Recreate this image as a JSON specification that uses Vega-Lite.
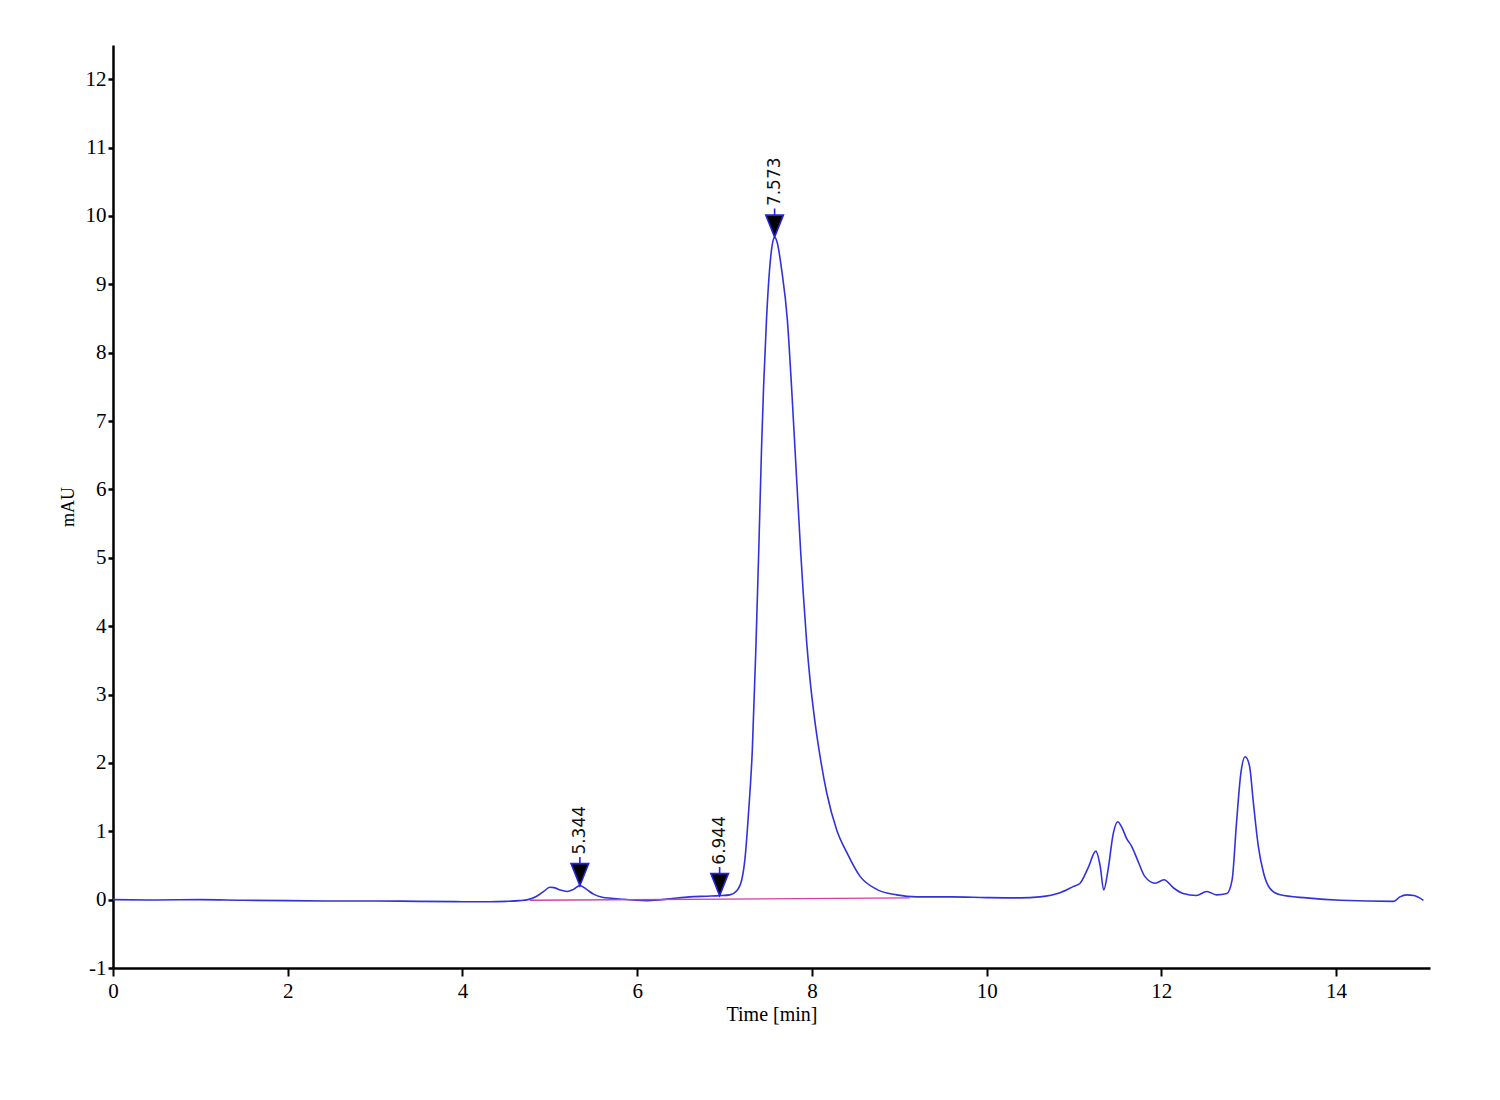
{
  "$schema": "https://vega.github.io/schema/vega-lite/v6.json",
  "autosize": {"type": "none"},
  "padding": {"left": 113, "top": 45, "right": 70, "bottom": 132},
  "width": 1317,
  "height": 923,
  "background": "white",
  "config": {"view": {"stroke": null}},
  "datasets": {
    "curve": [
      {"t": 0.0, "mAU": 0.0},
      {"t": 0.5, "mAU": -0.005},
      {"t": 1.0, "mAU": 0.0},
      {"t": 1.5, "mAU": -0.01},
      {"t": 2.0, "mAU": -0.015},
      {"t": 2.5, "mAU": -0.02},
      {"t": 3.0, "mAU": -0.02},
      {"t": 3.5, "mAU": -0.025},
      {"t": 4.0, "mAU": -0.03},
      {"t": 4.3, "mAU": -0.03},
      {"t": 4.5, "mAU": -0.025},
      {"t": 4.65, "mAU": -0.015},
      {"t": 4.75, "mAU": 0.0},
      {"t": 4.85, "mAU": 0.05},
      {"t": 4.93, "mAU": 0.12},
      {"t": 5.0, "mAU": 0.18},
      {"t": 5.05, "mAU": 0.175},
      {"t": 5.12, "mAU": 0.14},
      {"t": 5.2, "mAU": 0.12},
      {"t": 5.27, "mAU": 0.15},
      {"t": 5.344, "mAU": 0.205},
      {"t": 5.42, "mAU": 0.15},
      {"t": 5.5, "mAU": 0.08},
      {"t": 5.6, "mAU": 0.035},
      {"t": 5.7, "mAU": 0.02},
      {"t": 5.8, "mAU": 0.01},
      {"t": 5.95, "mAU": -0.005},
      {"t": 6.1, "mAU": -0.015},
      {"t": 6.25, "mAU": -0.005},
      {"t": 6.4, "mAU": 0.015},
      {"t": 6.6, "mAU": 0.04},
      {"t": 6.8, "mAU": 0.05},
      {"t": 6.944, "mAU": 0.058},
      {"t": 7.06, "mAU": 0.07},
      {"t": 7.14, "mAU": 0.13},
      {"t": 7.197, "mAU": 0.29},
      {"t": 7.234, "mAU": 0.6},
      {"t": 7.272, "mAU": 1.22},
      {"t": 7.318, "mAU": 2.19},
      {"t": 7.358, "mAU": 3.65},
      {"t": 7.392, "mAU": 5.12},
      {"t": 7.423, "mAU": 6.58},
      {"t": 7.447, "mAU": 7.5},
      {"t": 7.48, "mAU": 8.48},
      {"t": 7.515, "mAU": 9.21},
      {"t": 7.545, "mAU": 9.57},
      {"t": 7.573, "mAU": 9.69},
      {"t": 7.605, "mAU": 9.6},
      {"t": 7.654, "mAU": 9.21},
      {"t": 7.719, "mAU": 8.48},
      {"t": 7.767, "mAU": 7.5},
      {"t": 7.807, "mAU": 6.58},
      {"t": 7.87, "mAU": 5.12},
      {"t": 7.9, "mAU": 4.5},
      {"t": 7.941, "mAU": 3.75},
      {"t": 7.98, "mAU": 3.2},
      {"t": 8.02, "mAU": 2.75},
      {"t": 8.099, "mAU": 2.05},
      {"t": 8.17, "mAU": 1.56},
      {"t": 8.284, "mAU": 1.02},
      {"t": 8.399, "mAU": 0.69},
      {"t": 8.551, "mAU": 0.34},
      {"t": 8.742, "mAU": 0.15},
      {"t": 8.97, "mAU": 0.07},
      {"t": 9.2, "mAU": 0.04},
      {"t": 9.6, "mAU": 0.04},
      {"t": 10.0, "mAU": 0.03},
      {"t": 10.38, "mAU": 0.025},
      {"t": 10.61, "mAU": 0.04},
      {"t": 10.84, "mAU": 0.1},
      {"t": 10.99, "mAU": 0.19},
      {"t": 11.07, "mAU": 0.24},
      {"t": 11.16, "mAU": 0.46},
      {"t": 11.25, "mAU": 0.71},
      {"t": 11.3, "mAU": 0.49},
      {"t": 11.34, "mAU": 0.14},
      {"t": 11.39, "mAU": 0.44},
      {"t": 11.45, "mAU": 0.97},
      {"t": 11.5, "mAU": 1.14},
      {"t": 11.55, "mAU": 1.05},
      {"t": 11.6, "mAU": 0.9},
      {"t": 11.66, "mAU": 0.78},
      {"t": 11.74, "mAU": 0.54},
      {"t": 11.81, "mAU": 0.34},
      {"t": 11.93, "mAU": 0.24},
      {"t": 12.03, "mAU": 0.29},
      {"t": 12.14, "mAU": 0.17},
      {"t": 12.25, "mAU": 0.09},
      {"t": 12.4, "mAU": 0.06},
      {"t": 12.52, "mAU": 0.12},
      {"t": 12.63, "mAU": 0.07},
      {"t": 12.75, "mAU": 0.09},
      {"t": 12.81, "mAU": 0.29},
      {"t": 12.86, "mAU": 1.12},
      {"t": 12.91, "mAU": 1.85},
      {"t": 12.96, "mAU": 2.09},
      {"t": 13.01, "mAU": 1.95},
      {"t": 13.05, "mAU": 1.46},
      {"t": 13.11, "mAU": 0.78},
      {"t": 13.17, "mAU": 0.39},
      {"t": 13.24, "mAU": 0.17},
      {"t": 13.36, "mAU": 0.07},
      {"t": 13.66, "mAU": 0.025},
      {"t": 14.05, "mAU": -0.01},
      {"t": 14.66, "mAU": -0.025},
      {"t": 14.73, "mAU": 0.04},
      {"t": 14.81, "mAU": 0.07},
      {"t": 14.89, "mAU": 0.06},
      {"t": 15.0, "mAU": -0.01}
    ],
    "baseline": [
      {"t": 4.77, "mAU": -0.01},
      {"t": 9.12, "mAU": 0.025}
    ],
    "peaks": [
      {"t": 5.344, "mAU": 0.205, "label": "5.344"},
      {"t": 6.944, "mAU": 0.058, "label": "6.944"},
      {"t": 7.573, "mAU": 9.69, "label": "7.573"}
    ]
  },
  "encoding": {
    "x": {
      "field": "t", "type": "quantitative",
      "scale": {"domain": [0, 15.075], "nice": false, "zero": false},
      "axis": {
        "title": "Time [min]",
        "values": [0, 2, 4, 6, 8, 10, 12, 14],
        "grid": false,
        "domainColor": "black", "domainWidth": 2.5,
        "tickColor": "black", "tickWidth": 2, "tickSize": 8,
        "labelFont": "Liberation Serif", "labelFontSize": 21, "labelColor": "black", "labelPadding": 4,
        "labelFlush": false,
        "titleFont": "Liberation Serif", "titleFontSize": 20, "titleFontWeight": "normal", "titleColor": "black", "titlePadding": 3
      }
    },
    "y": {
      "field": "mAU", "type": "quantitative",
      "scale": {"domain": [-1, 12.5], "nice": false, "zero": false},
      "axis": {
        "title": "mAU",
        "values": [-1, 0, 1, 2, 3, 4, 5, 6, 7, 8, 9, 10, 11, 12],
        "labelExpr": "datum.value < 0 ? '-' + abs(datum.value) : '' + datum.value",
        "grid": false,
        "domainColor": "black", "domainWidth": 2.5,
        "tickColor": "black", "tickWidth": 2.5, "tickSize": 5,
        "labelFont": "Liberation Serif", "labelFontSize": 21, "labelColor": "black", "labelPadding": 2,
        "labelFlush": false,
        "titleFont": "Liberation Serif", "titleFontSize": 18, "titleFontWeight": "normal", "titleColor": "black", "titlePadding": 8
      }
    }
  },
  "layer": [
    {
      "data": {"name": "curve"},
      "mark": {"type": "line", "color": "#3232dc", "strokeWidth": 1.6, "interpolate": "monotone", "clip": true}
    },
    {
      "data": {"name": "baseline"},
      "mark": {"type": "line", "color": "#d0409f", "strokeWidth": 1.4}
    },
    {
      "data": {"name": "peaks"},
      "mark": {
        "type": "point",
        "shape": "M-0.8,-2L0.8,-2L0,0Z M0,-2L0,-2.6",
        "size": 484,
        "filled": true,
        "fill": "black",
        "stroke": "#2424e0",
        "strokeWidth": 1.6,
        "opacity": 1,
        "fillOpacity": 1
      }
    },
    {
      "data": {"name": "peaks"},
      "mark": {
        "type": "text",
        "angle": -90,
        "align": "left",
        "baseline": "middle",
        "dx": 31,
        "font": "DejaVu Sans",
        "fontSize": 17,
        "color": "#111111"
      },
      "encoding": {"text": {"field": "label"}}
    }
  ]
}
